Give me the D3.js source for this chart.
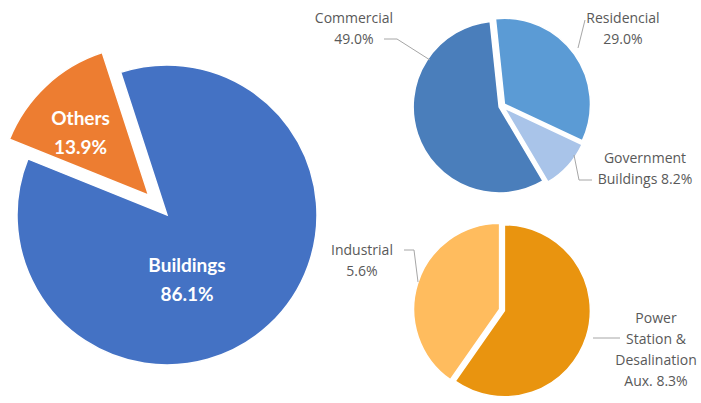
<!DOCTYPE html>
<html>
<head>
<meta charset="utf-8">
<script src="https://cdn.jsdelivr.net/npm/d3@7"></script>
<style>
  html, body { margin: 0; padding: 0; background: #ffffff; }
  svg { display: block; }
</style>
</head>
<body>
<svg id="chart" width="701" height="403"></svg>
<script>
// Energy use split: main pie plus two breakdown pies
const mainCategories = ["Buildings", "Others"];
const mainValues = [86.1, 13.9];

const buildingCategories = ["Residencial", "Government Buildings", "Commercial"];
const buildingValues = [29.0, 8.2, 49.0];

const otherCategories = ["Power Station & Desalination Aux.", "Industrial"];
const otherValues = [8.3, 5.6];

// Label line breaks (category text split over lines; the value is appended)
const buildingLabelLines = [["Residencial"], ["Government", "Buildings"], ["Commercial"]];
const otherLabelLines = [["Power", "Station &", "Desalination", "Aux."], ["Industrial"]];

const svg = d3.select("#chart");
const fmt = v => d3.format(".1f")(v) + "%";
const deg = d => d * Math.PI / 180;

function makeArcs(values, startDeg) {
  return d3.pie().sort(null)
    .startAngle(deg(startDeg))
    .endAngle(deg(startDeg) + 2 * Math.PI)(values);
}

function offsetFor(d, dist) {
  const mid = (d.startAngle + d.endAngle) / 2;
  return [Math.sin(mid) * dist, -Math.cos(mid) * dist];
}

// ---------- Main pie ----------
const main = { cx: 167, cy: 215, r: 150, start: -18 };
const mainColors = d3.scaleOrdinal().domain(mainCategories).range(["#4472C4", "#ED7D31"]);
const mainExplode = [0, 27];
const mainArc = d3.arc().innerRadius(0).outerRadius(main.r);
const mainG = svg.append("g").attr("transform", `translate(${main.cx},${main.cy})`);
const mainData = makeArcs(mainValues, main.start);

mainG.selectAll("path").data(mainData).join("path")
  .attr("transform", (d, i) => `translate(${offsetFor(d, mainExplode[i])})`)
  .attr("d", mainArc)
  .attr("fill", (d, i) => mainColors(mainCategories[i]))
  .attr("stroke", "#ffffff")
  .attr("stroke-width", 1.5);

// label positions relative to each slice's (exploded) origin
const mainLabelPos = [[20, 57], [-68, -70]];
const mainLabels = mainG.selectAll("text.main").data(mainData).join("text")
  .attr("class", "main")
  .attr("transform", (d, i) => {
    const o = offsetFor(d, mainExplode[i]);
    return `translate(${o[0] + mainLabelPos[i][0]},${o[1] + mainLabelPos[i][1]})`;
  })
  .attr("text-anchor", "middle")
  .attr("fill", "#ffffff")
  .attr("font-family", "Lato, 'Open Sans', sans-serif")
  .attr("font-weight", "bold")
  .attr("font-size", 19);
mainLabels.each(function (d, i) {
  const t = d3.select(this);
  t.append("tspan").attr("x", 0).attr("y", 0).text(mainCategories[i]);
  t.append("tspan").attr("x", 0).attr("y", 29).text(fmt(mainValues[i]));
});

// ---------- Breakdown pies ----------
function drawBreakdown(cfg) {
  const g = svg.append("g").attr("transform", `translate(${cfg.cx},${cfg.cy})`);
  const arc = d3.arc().innerRadius(0).outerRadius(cfg.r);
  const data = makeArcs(cfg.values, cfg.start);
  const color = d3.scaleOrdinal().domain(cfg.categories).range(cfg.colors);

  g.selectAll("path").data(data).join("path")
    .attr("transform", d => `translate(${offsetFor(d, cfg.explode)})`)
    .attr("d", arc)
    .attr("fill", (d, i) => color(cfg.categories[i]))
    .attr("stroke", "#ffffff")
    .attr("stroke-width", 1.5);

  // leader lines
  svg.selectAll(null).data(cfg.leaders).join("polyline")
    .attr("points", p => p.map(q => q.join(",")).join(" "))
    .attr("fill", "none")
    .attr("stroke", "#a6a6a6")
    .attr("stroke-width", 1);

  // data labels
  cfg.values.forEach((v, i) => {
    const lines = cfg.labelLines[i].slice();
    const last = lines.length - 1;
    const pos = cfg.labelPos[i];
    if (cfg.valueOnNewLine[i]) lines.push(fmt(v));
    else lines[last] = lines[last] + " " + fmt(v);
    const t = svg.append("text")
      .attr("text-anchor", "middle")
      .attr("fill", "#595959")
      .attr("font-family", "'Open Sans', Lato, sans-serif")
      .attr("font-size", 14);
    lines.forEach((s, k) => {
      t.append("tspan").attr("x", pos[0]).attr("y", pos[1] + k * cfg.lineH).text(s);
    });
  });
}

drawBreakdown({
  cx: 502, cy: 106, r: 86, start: -6, explode: 3,
  categories: buildingCategories, values: buildingValues,
  colors: ["#5B9BD5", "#A9C4E9", "#4A7EBB"],
  labelLines: buildingLabelLines,
  valueOnNewLine: [true, false, true],
  labelPos: [[623, 23], [645, 163], [354, 23]],
  lineH: 21,
  leaders: [
    [[585, 20], [578, 48]],
    [[574, 155], [579, 180], [592, 180]],
    [[384, 39], [397, 39], [430, 60]]
  ]
});

drawBreakdown({
  cx: 502, cy: 310, r: 86, start: 0, explode: 2.5,
  categories: otherCategories, values: otherValues,
  colors: ["#E9940F", "#FFBC5E"],
  labelLines: otherLabelLines,
  valueOnNewLine: [false, true],
  labelPos: [[656, 323], [362, 255]],
  lineH: 21,
  leaders: [
    [[593, 338], [620, 338]],
    [[404, 250], [414, 250], [418, 282]]
  ]
});
</script>
</body>
</html>
